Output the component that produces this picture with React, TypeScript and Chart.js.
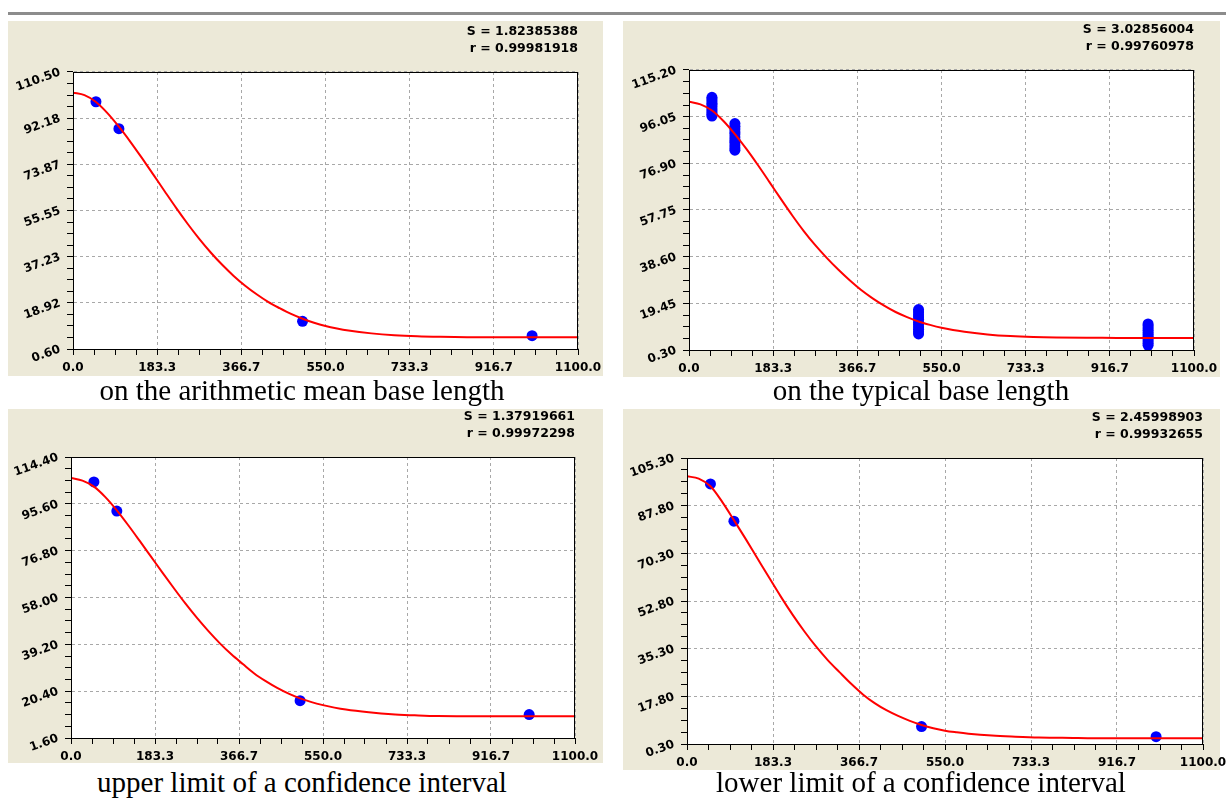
import React, { useEffect, useRef } from "react";
import { Chart, registerables } from "chart.js";

Chart.register(...registerables);

// ---------- shared axis data ----------
const xTickLabels = ["0.0", "183.3", "366.7", "550.0", "733.3", "916.7", "1100.0"];
const curveX = [0, 25, 50, 75, 100, 125, 150, 175, 200, 225, 250, 275, 300, 325, 350, 375, 400, 425, 450, 475, 500, 525, 550, 575, 600, 650, 700, 750, 800, 900, 1000, 1100];

// ---------- panel 1: arithmetic mean base length ----------
const p1YTickLabels = ["0.60", "18.92", "37.23", "55.55", "73.87", "92.18", "110.50"];
const p1PointX = [50, 100, 500, 1000];
const p1PointY = [98.7, 88.0, 11.6, 5.9];
const p1CurveY = [102.3, 101.3, 98.6, 94.2, 88.8, 82.8, 76.4, 69.8, 63.1, 56.5, 50.2, 44.3, 38.9, 34.0, 29.6, 25.7, 22.3, 19.3, 16.8, 14.5, 12.6, 11.0, 9.7, 8.7, 7.9, 6.8, 6.1, 5.7, 5.5, 5.3, 5.3, 5.3];
const p1Stats = ["S = 1.82385388", "r = 0.99981918"];
const p1Caption = "on the arithmetic mean base length";

// ---------- panel 2: typical base length ----------
const p2YTickLabels = ["0.30", "19.45", "38.60", "57.75", "76.90", "96.05", "115.20"];
const p2PointX = [
  50, 50, 50, 50, 50, 50, 50, 50, 50, 50, 50,
  100, 100, 100, 100, 100, 100, 100, 100, 100, 100, 100,
  500, 500, 500, 500, 500, 500, 500, 500, 500, 500, 500,
  1000, 1000, 1000, 1000, 1000, 1000, 1000, 1000, 1000, 1000, 1000,
];
const p2PointY = [
  104.0, 103.3, 102.5, 101.6, 100.9, 100.1, 99.2, 98.4, 97.6, 96.9, 96.3,
  93.2, 92.1, 91.0, 89.8, 88.9, 87.7, 86.5, 85.6, 84.4, 83.3, 82.3,
  16.9, 15.9, 14.8, 13.8, 12.9, 11.7, 10.8, 9.7, 8.8, 7.8, 6.9,
  11.0, 10.2, 9.3, 8.4, 7.5, 6.7, 5.8, 4.9, 4.0, 3.1, 2.2,
];
const p2CurveY = [102.2, 101.1, 98.6, 94.3, 88.9, 82.8, 76.2, 69.3, 62.3, 55.5, 49.1, 43.3, 38.1, 33.3, 28.9, 24.9, 21.5, 18.5, 15.9, 13.8, 12.0, 10.6, 9.4, 8.5, 7.8, 6.7, 6.0, 5.6, 5.4, 5.3, 5.2, 5.2];
const p2Stats = ["S = 3.02856004", "r = 0.99760978"];
const p2Caption = "on the typical base length";

// ---------- panel 3: upper limit of a confidence interval ----------
const p3YTickLabels = ["1.60", "20.40", "39.20", "58.00", "76.80", "95.60", "114.40"];
const p3PointX = [50, 100, 500, 1000];
const p3PointY = [104.4, 92.7, 16.6, 11.0];
const p3CurveY = [106.0, 104.9, 102.5, 98.3, 93.0, 87.0, 80.7, 74.3, 67.9, 61.6, 55.5, 49.8, 44.5, 39.6, 35.2, 31.3, 27.5, 24.4, 21.7, 19.4, 17.5, 16.0, 14.8, 13.8, 13.0, 11.9, 11.1, 10.7, 10.4, 10.3, 10.3, 10.3];
const p3Stats = ["S = 1.37919661", "r = 0.99972298"];
const p3Caption = "upper limit of a confidence interval";

// ---------- panel 4: lower limit of a confidence interval ----------
const p4YTickLabels = ["0.30", "17.80", "35.30", "52.80", "70.30", "87.80", "105.30"];
const p4PointX = [50, 100, 500, 1000];
const p4PointY = [95.8, 82.1, 6.7, 3.0];
const p4CurveY = [98.6, 97.7, 94.9, 89.2, 82.5, 75.6, 68.5, 61.4, 54.4, 47.8, 41.7, 36.1, 31.1, 26.7, 22.4, 18.5, 15.3, 12.7, 10.6, 8.8, 7.3, 6.1, 5.2, 4.6, 4.1, 3.4, 3.0, 2.7, 2.6, 2.4, 2.4, 2.4];
const p4Stats = ["S = 2.45998903", "r = 0.99932655"];
const p4Caption = "lower limit of a confidence interval";

const BEIGE = "#ECE9D8";
const TICK_FONT = { family: "'DejaVu Sans', Verdana, sans-serif", size: 12, weight: "bold" as const };

type PanelProps = {
  left: number; top: number; width: number; height: number; beigeW: number;
  yW: number; padTop: number; padRight: number; xH: number;
  yLabels: string[]; curveY: number[]; pointX: number[]; pointY: number[]; stats: string[];
};

function subTicks(labels: string[]) {
  const min = parseFloat(labels[0]);
  const max = parseFloat(labels[labels.length - 1]);
  const out: { value: number }[] = [];
  for (let i = 0; i <= 24; i++) out.push({ value: min + ((max - min) * i) / 24 });
  return out;
}

function PlotPanel(p: PanelProps) {
  const ref = useRef<HTMLCanvasElement>(null);
  useEffect(() => {
    if (!ref.current) return;
    const yMin = parseFloat(p.yLabels[0]);
    const yMax = parseFloat(p.yLabels[p.yLabels.length - 1]);
    const xMin = parseFloat(xTickLabels[0]);
    const xMax = parseFloat(xTickLabels[xTickLabels.length - 1]);

    const decor = {
      id: "decor",
      beforeDraw(chart: any) {
        const { ctx, chartArea: a } = chart;
        ctx.save();
        ctx.fillStyle = BEIGE;
        ctx.fillRect(0, 0, p.beigeW, p.height);
        ctx.fillStyle = "#ffffff";
        ctx.fillRect(a.left, a.top, a.right - a.left, a.bottom - a.top);
        ctx.restore();
      },
      afterDraw(chart: any) {
        const { ctx, chartArea: a } = chart;
        ctx.save();
        ctx.strokeStyle = "#000";
        ctx.lineWidth = 1;
        const L = Math.round(a.left) + 0.5;
        const T = Math.round(a.top) + 0.5;
        const R = Math.round(a.right) - 0.5;
        const B = Math.round(a.bottom) + 0.5;
        ctx.strokeRect(L, T, R - L, B - T);
        ctx.font = "bold 12.5px 'DejaVu Sans', Verdana, sans-serif";
        ctx.fillStyle = "#000";
        ctx.textAlign = "right";
        ctx.textBaseline = "middle";
        ctx.fillText(p.stats[0], a.right, a.top - 40);
        ctx.fillText(p.stats[1], a.right, a.top - 23);
        ctx.restore();
      },
    };

    const chart = new Chart(ref.current, {
      type: "scatter",
      data: {
        datasets: [
          {
            type: "line",
            data: curveX.map((x, i) => ({ x, y: p.curveY[i] })),
            borderColor: "#ff0000",
            backgroundColor: "#ff0000",
            borderWidth: 2,
            pointRadius: 0,
            fill: false,
            cubicInterpolationMode: "monotone",
          } as any,
          {
            type: "scatter",
            data: p.pointX.map((x, i) => ({ x, y: p.pointY[i] })),
            backgroundColor: "#0000ff",
            borderColor: "#0000ff",
            borderWidth: 0,
            pointRadius: 5.5,
          } as any,
        ],
      },
      options: {
        responsive: false,
        animation: false,
        events: [],
        layout: { padding: { top: p.padTop, right: p.padRight, left: 0, bottom: 0 } },
        plugins: { legend: { display: false }, tooltip: { enabled: false }, title: { display: false } },
        scales: {
          x: {
            type: "linear",
            min: xMin,
            max: xMax,
            afterBuildTicks: (s: any) => { s.ticks = subTicks(xTickLabels); },
            afterFit: (s: any) => { s.height = p.xH; s.paddingLeft = 0; s.paddingRight = 0; },
            ticks: {
              autoSkip: false,
              minRotation: 0,
              maxRotation: 0,
              padding: 6,
              color: "#000",
              font: TICK_FONT,
              callback: (_v: any, i: number) => (i % 4 === 0 ? xTickLabels[i / 4] : ""),
            },
            grid: {
              color: (c: any) => (c.index % 4 === 0 ? "#a8a8a8" : "rgba(0,0,0,0)"),
              tickColor: "#000",
              tickLength: 6,
              lineWidth: 1,
              borderDash: [3, 3],
            },
            border: { display: true, color: "#000", width: 1, dash: [3, 3] },
          } as any,
          y: {
            type: "linear",
            min: yMin,
            max: yMax,
            afterBuildTicks: (s: any) => { s.ticks = subTicks(p.yLabels); },
            afterFit: (s: any) => { s.width = p.yW; s.paddingTop = 0; s.paddingBottom = 0; },
            ticks: {
              autoSkip: false,
              minRotation: 20,
              maxRotation: 20,
              padding: 7,
              color: "#000",
              font: TICK_FONT,
              callback: (_v: any, i: number) => (i % 4 === 0 ? p.yLabels[i / 4] : ""),
            },
            grid: {
              color: (c: any) => (c.index % 4 === 0 ? "#a8a8a8" : "rgba(0,0,0,0)"),
              tickColor: "#000",
              tickLength: 6,
              lineWidth: 1,
              borderDash: [3, 3],
            },
            border: { display: true, color: "#000", width: 1, dash: [3, 3] },
          } as any,
        },
      },
      plugins: [decor],
    });
    return () => chart.destroy();
  }, []);

  return (
    <canvas
      ref={ref}
      width={p.width}
      height={p.height}
      style={{ position: "absolute", left: p.left, top: p.top, width: p.width, height: p.height }}
    />
  );
}

const panels: PanelProps[] = [
  { left: 8, top: 21, width: 595, height: 355, beigeW: 595, yW: 65, padTop: 51, padRight: 25, xH: 27,
    yLabels: p1YTickLabels, curveY: p1CurveY, pointX: p1PointX, pointY: p1PointY, stats: p1Stats },
  { left: 623, top: 21, width: 603, height: 356, beigeW: 597, yW: 66, padTop: 49, padRight: 32, xH: 27,
    yLabels: p2YTickLabels, curveY: p2CurveY, pointX: p2PointX, pointY: p2PointY, stats: p2Stats },
  { left: 8, top: 409, width: 595, height: 354, beigeW: 595, yW: 63, padTop: 48, padRight: 28, xH: 25,
    yLabels: p3YTickLabels, curveY: p3CurveY, pointX: p3PointX, pointY: p3PointY, stats: p3Stats },
  { left: 623, top: 409, width: 603, height: 361, beigeW: 597, yW: 64, padTop: 49, padRight: 23, xH: 26,
    yLabels: p4YTickLabels, curveY: p4CurveY, pointX: p4PointX, pointY: p4PointY, stats: p4Stats },
];

const captions = [
  { text: p1Caption, cx: 302, top: 374 },
  { text: p2Caption, cx: 921, top: 374 },
  { text: p3Caption, cx: 302, top: 766 },
  { text: p4Caption, cx: 921, top: 766 },
];

export default function App() {
  return (
    <div style={{ position: "absolute", left: 0, top: 0, width: 1226, height: 799, background: "#fff", overflow: "hidden" }}>
      <div style={{ position: "absolute", left: 8, top: 12, width: 1218, height: 3, background: "#8c8c8c" }} />
      {panels.map((p, i) => (
        <PlotPanel key={i} {...p} />
      ))}
      {captions.map((c, i) => (
        <div
          key={i}
          style={{
            position: "absolute",
            left: c.cx - 300,
            top: c.top,
            width: 600,
            textAlign: "center",
            fontFamily: "'Liberation Serif', 'Times New Roman', serif",
            fontSize: 29,
            lineHeight: "32px",
            color: "#000",
            whiteSpace: "nowrap",
          }}
        >
          {c.text}
        </div>
      ))}
    </div>
  );
}
